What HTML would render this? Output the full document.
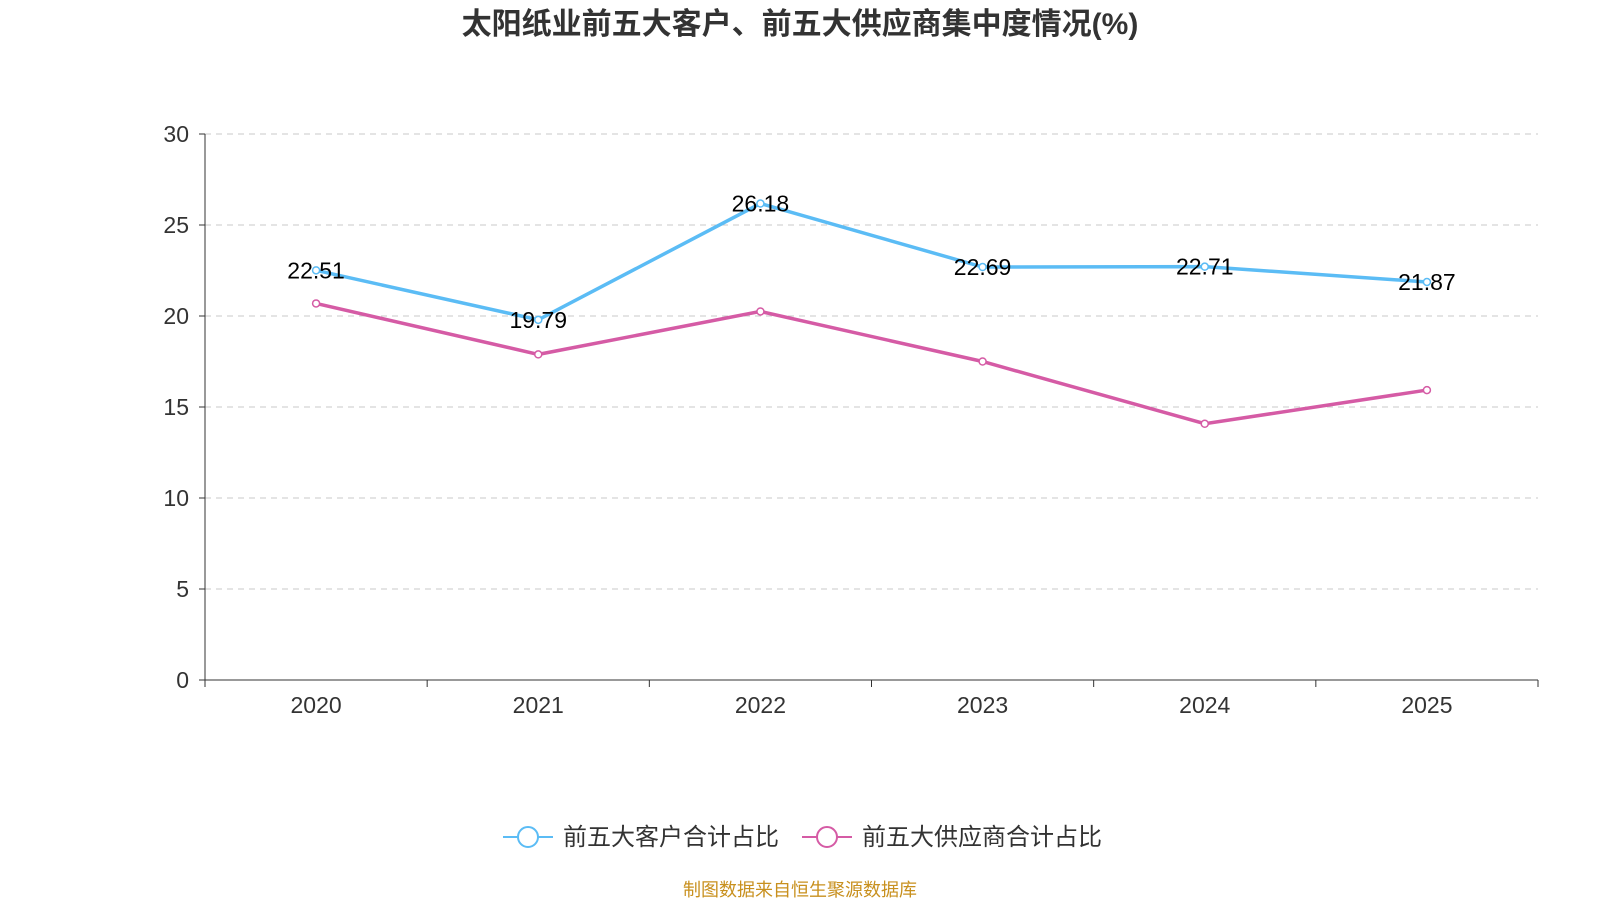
<!DOCTYPE html>
<html><head><meta charset="utf-8"><style>
body{margin:0;background:#fff;width:1600px;height:900px;overflow:hidden;font-family:"Liberation Sans","Noto Sans CJK SC",sans-serif}
</style></head><body>
<svg id="chart" width="1600" height="900" xmlns="http://www.w3.org/2000/svg" style="font-family:'Liberation Sans','Noto Sans CJK SC',sans-serif">
<text x="800" y="34" text-anchor="middle" font-size="30" font-weight="bold" fill="#333">太阳纸业前五大客户、前五大供应商集中度情况(%)</text>
<g id="grid"></g><g id="axes"></g><g id="series"></g>
<g>
<g>
<line x1="503" y1="837" x2="553" y2="837" stroke="#5bbcf5" stroke-width="2"/>
<circle cx="528" cy="837" r="10" fill="#fff" stroke="#5bbcf5" stroke-width="2"/>
<text x="563" y="845" font-size="24" fill="#333">前五大客户合计占比</text></g>
<g>
<line x1="802" y1="837" x2="852" y2="837" stroke="#d55ba5" stroke-width="2"/>
<circle cx="827" cy="837" r="10" fill="#fff" stroke="#d55ba5" stroke-width="2"/>
<text x="862" y="845" font-size="24" fill="#333">前五大供应商合计占比</text></g>
</g>
<text x="800" y="896" text-anchor="middle" font-size="18" fill="#c8901e">制图数据来自恒生聚源数据库</text>
</svg>
<script>
const categories=["2020","2021","2022","2023","2024","2025"];
const customerValues=[22.51,19.79,26.18,22.69,22.71,21.87];
const supplierValues=[20.69,17.89,20.25,17.5,14.08,15.93];
const yTicks=[0,5,10,15,20,25,30];
const NS="http://www.w3.org/2000/svg";
const x0=205,x1=1538,y0=680,y1=134,yMax=30;
const band=(x1-x0)/categories.length;
const xs=i=>x0+band*(i+0.5);
const ys=v=>y0-(v/yMax)*(y0-y1);
function mk(tag,attrs,parent,text){const e=document.createElementNS(NS,tag);for(const k in attrs)e.setAttribute(k,attrs[k]);if(text!==undefined)e.textContent=text;parent.appendChild(e);return e;}
const grid=document.getElementById('grid'),axes=document.getElementById('axes'),ser=document.getElementById('series');
yTicks.forEach(t=>{const y=ys(t);
 if(t>0){const l=mk('line',{x1:x0,x2:x1,y1:y,y2:y,stroke:'#c8c8c8','stroke-dasharray':'6,5'},grid);
 
 }
 mk('line',{x1:x0-6,x2:x0,y1:y,y2:y,stroke:'#333'},axes);
 const tx=mk('text',{x:x0-16,y:y+8,'text-anchor':'end','font-size':23,fill:'#333'},axes,t);
 
 
});
mk('line',{x1:x0,x2:x0,y1:y1,y2:y0,stroke:'#333'},axes);
mk('line',{x1:x0,x2:x1,y1:y0,y2:y0,stroke:'#333'},axes);
for(let i=0;i<=categories.length;i++){const x=x0+band*i;mk('line',{x1:x,x2:x,y1:y0,y2:y0+7,stroke:'#333'},axes);}
categories.forEach((c,i)=>{const t=mk('text',{x:xs(i),y:y0+33,'text-anchor':'middle','font-size':23,fill:'#333'},axes,c);
 
 });
function drawSeries(vals,color,name,labels){
 const p=mk('polyline',{points:vals.map((v,i)=>xs(i)+','+ys(v)).join(' '),fill:'none',stroke:color,'stroke-width':3.5},ser);
 
 
 vals.forEach((v,i)=>{const c=mk('circle',{cx:xs(i),cy:ys(v),r:3.5,fill:'#fff',stroke:color,'stroke-width':1.5},ser);
  
  
  if(labels){const t=mk('text',{x:xs(i),y:ys(v)+8,'text-anchor':'middle','font-size':23,fill:'#000'},ser,v.toFixed(2));
  
  }
 });
}
drawSeries(supplierValues,'#d55ba5','supplier',false);
drawSeries(customerValues,'#5bbcf5','customer',true);
</script>
</body></html>
